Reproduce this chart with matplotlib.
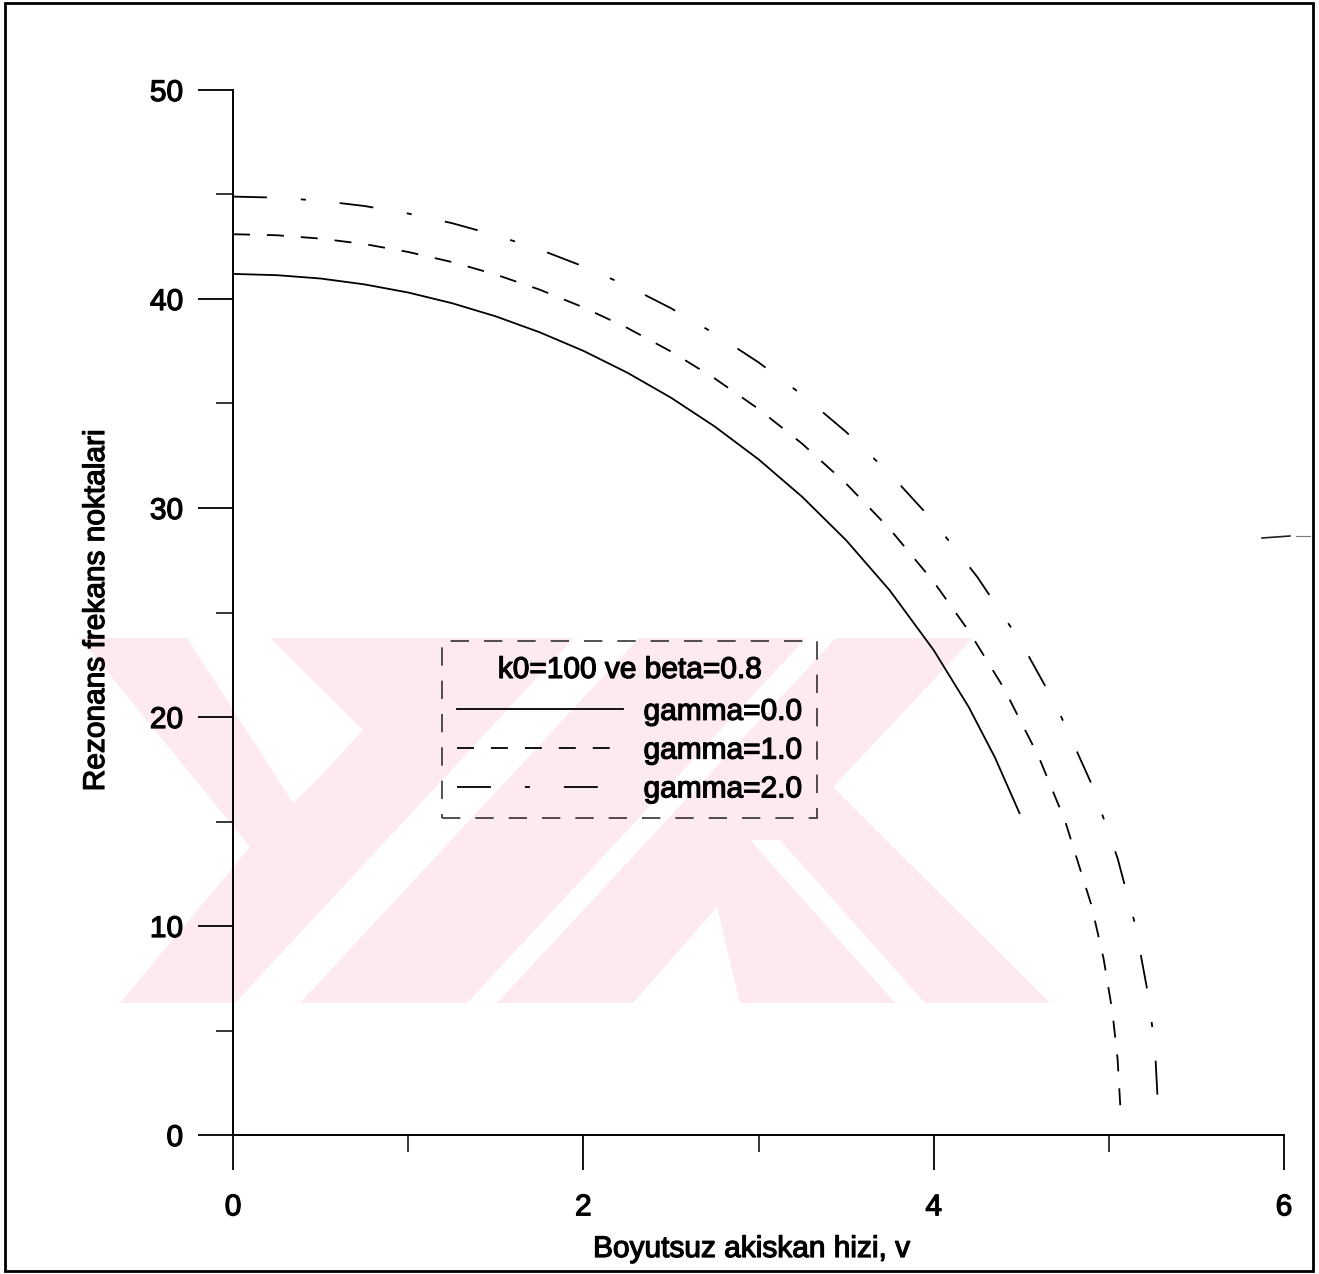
import matplotlib
matplotlib.use("Agg")
import matplotlib.pyplot as plt
import matplotlib.patheffects as pe
from matplotlib.patches import Polygon, Rectangle
from matplotlib.lines import Line2D

plt.rcParams['font.family'] = ['Liberation Sans', 'DejaVu Sans']

# ---------------- data ----------------
v_g0 = [0.0, 0.25, 0.5, 0.75, 1.0, 1.25, 1.5, 1.75, 2.0, 2.25, 2.5, 2.75, 3.0, 3.25,
        3.5, 3.75, 4.0, 4.2, 4.35, 4.49]
f_g0 = [41.2, 41.14, 40.98, 40.70, 40.31, 39.80, 39.17, 38.41, 37.52, 36.48, 35.28, 33.90,
        32.33, 30.53, 28.46, 26.05, 23.20, 20.48, 18.06, 15.4]

v_g1 = [0.0, 0.25, 0.5, 0.75, 1.0, 1.25, 1.5, 1.75, 2.0, 2.25, 2.5, 2.75, 3.0, 3.25,
        3.5, 3.75, 4.0, 4.2, 4.4, 4.6, 4.75, 4.9, 4.97, 5.02, 5.05, 5.066]
f_g1 = [43.1, 43.05, 42.89, 42.63, 42.25, 41.77, 41.17, 40.45, 39.60, 38.62, 37.49, 36.20,
        34.74, 33.07, 31.17, 28.99, 26.47, 24.12, 21.39, 18.09, 15.03, 11.01, 8.44, 5.92,
        3.63, 1.3]

v_g2 = [0.0, 0.25, 0.5, 0.75, 1.0, 1.25, 1.5, 1.75, 2.0, 2.25, 2.5, 2.75, 3.0, 3.25,
        3.5, 3.75, 4.0, 4.25, 4.5, 4.7, 4.9, 5.05, 5.15, 5.23, 5.265, 5.283]
f_g2 = [44.9, 44.85, 44.70, 44.45, 44.09, 43.63, 43.05, 42.37, 41.56, 40.63, 39.56, 38.34,
        36.97, 35.41, 33.64, 31.64, 29.35, 26.69, 23.55, 20.53, 16.82, 13.24, 10.08, 6.46,
        3.90, 1.0]

series_labels = ['gamma=0.0', 'gamma=1.0', 'gamma=2.0']
legend_title = 'k0=100 ve beta=0.8'
x_label = 'Boyutsuz akiskan hizi, v'
y_label = 'Rezonans frekans noktalari'
x_major = [0, 2, 4, 6]
x_minor = [1, 3, 5]
y_major = [0, 10, 20, 30, 40, 50]
y_minor = [5, 15, 25, 35, 45]

# ---------------- figure ----------------
W, H = 1319, 1274
fig = plt.figure(figsize=(W / 100, H / 100), dpi=100)
fig.patch.set_facecolor('white')
thick = [pe.withStroke(linewidth=0.9, foreground='black')]
FS = 21.5


def fp(pts):
    return [(x / W, 1 - y / H) for x, y in pts]


# faint watermark in the background of the scanned page
pink = '#fdeaee'
base = [(80, 638), (973, 638), (833, 787), (1050, 1003), (120, 1003), (250, 847)]
whites = [
    [(187, 638), (270, 638), (363, 730), (317, 780), (293, 803)],
    [(574, 638), (639, 638), (300, 1003), (235, 1003)],
    [(806, 638), (836, 638), (497, 1003), (467, 1003)],
    [(633, 1003), (717, 907), (740, 1003)],
    [(750, 840), (780, 840), (925, 1003), (895, 1003)],
]
fig.patches.append(Polygon(fp(base), closed=True, transform=fig.transFigure,
                           facecolor=pink, edgecolor='none', zorder=-3))
for wpoly in whites:
    fig.patches.append(Polygon(fp(wpoly), closed=True, transform=fig.transFigure,
                               facecolor='white', edgecolor='none', zorder=-2))

# page frame
fig.patches.append(Rectangle((5 / W, 1 - 1271 / H), (1313 - 5) / W, (1271 - 3) / H,
                             transform=fig.transFigure, fill=False,
                             edgecolor='black', linewidth=2.0, zorder=5))
# small scan mark on the right edge
fig.lines.append(Line2D([1262 / W, 1290 / W], [1 - 538 / H, 1 - 536 / H],
                        transform=fig.transFigure, color='#222222', linewidth=1.2))
fig.lines.append(Line2D([1296 / W, 1310 / W], [1 - 536 / H, 1 - 536 / H],
                        transform=fig.transFigure, color='#777777', linewidth=0.8))

ax = fig.add_axes([233 / W, 1 - 1135 / H, (1284 - 233) / W, (1135 - 90) / H])
ax.patch.set_alpha(0)
ax.set_xlim(0, 6)
ax.set_ylim(0, 50)
for s in ['top', 'right']:
    ax.spines[s].set_visible(False)
for s in ['left', 'bottom']:
    ax.spines[s].set_linewidth(1.4)

ax.set_xticks(x_major)
ax.set_xticks(x_minor, minor=True)
ax.set_yticks(y_major)
ax.set_yticks(y_minor, minor=True)
ax.tick_params(which='major', direction='out', length=25, width=1.3, labelsize=FS)
ax.tick_params(which='minor', direction='out', length=12, width=1.1)
ax.tick_params(axis='x', which='major', pad=17)
ax.tick_params(axis='y', which='major', pad=11)
for t in ax.get_xticklabels() + ax.get_yticklabels():
    t.set_path_effects(thick)

lw = 1.3
ax.plot(v_g0, f_g0, color='black', lw=lw, linestyle='-', label=series_labels[0])
ax.plot(v_g1, f_g1, color='black', lw=lw, linestyle=(0, (9.4, 9.4)), label=series_labels[1])
ax.plot(v_g2, f_g2, color='black', lw=lw, linestyle=(0, (18.8, 18.8, 2.8, 18.8)),
        label=series_labels[2])

ax.set_xlabel(x_label, fontsize=FS, va='center', path_effects=thick)
ax.xaxis.set_label_coords((752 - 233) / 1051, -(1249 - 1135) / 1045)
ax.set_ylabel(y_label, fontsize=FS, va='center', path_effects=thick)
ax.yaxis.set_label_coords(-(233 - 96) / 1051, (1135 - 610) / 1045)

leg = ax.legend(title=legend_title, loc='upper left',
                bbox_to_anchor=((442 - 233) / 1051, (1135 - 641) / 1045),
                borderaxespad=0, fontsize=FS, title_fontsize=FS,
                frameon=True, fancybox=False, edgecolor='black', facecolor='none',
                handlelength=5.55, handletextpad=0.7, labelspacing=0.36,
                borderpad=0.5, alignment='center')
fr = leg.get_frame()
fr.set_linestyle((0, (11, 9)))
fr.set_linewidth(1.2)
for t in leg.get_texts():
    t.set_path_effects(thick)
leg.get_title().set_path_effects(thick)
# extra gap between title and first entry
leg._legend_box.sep = 10

fig.savefig('out.png', dpi=100)
